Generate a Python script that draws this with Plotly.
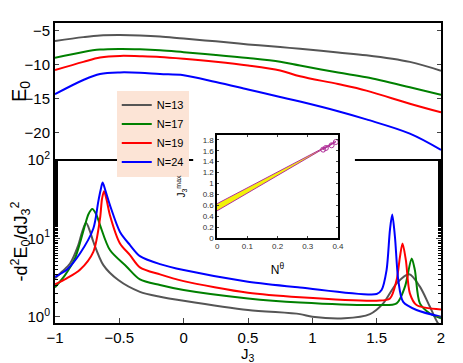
import plotly.graph_objects as go

# series names / colours
names = ["N=13", "N=17", "N=19", "N=24"]
colors = ["#555555", "#008000", "#ff0000", "#0000ff"]

# top panel: ground state energy E0 vs J3
j_top = [-1, -0.78, -0.65, -0.495, -0.34, -0.184, 0, 0.25, 0.5, 0.75, 0.904, 1.2, 1.42, 1.758, 2.0]
e0_13 = [-6.56, -5.98, -5.73, -5.68, -5.73, -5.88, -6.2, -6.6, -7.05, -7.45, -7.7, -8.25, -8.65, -9.63, -10.94]
e0_17 = [-9.04, -8.17, -7.82, -7.73, -7.78, -7.92, -8.2, -8.6, -9.05, -9.6, -10.16, -11.2, -11.9, -13.37, -14.49]
e0_19 = [-10.84, -9.63, -8.99, -8.75, -8.8, -8.9, -9.16, -9.6, -10.15, -10.9, -11.75, -12.9, -13.86, -15.8, -17.07]
e0_24 = [-14.39, -12.3, -11.42, -11.18, -11.23, -11.42, -11.6, -12.6, -13.7, -14.8, -15.47, -16.9, -18.1, -20.2, -22.6]

# bottom panel: -d2E0/dJ3^2 (log scale)
j_13 = [-1, -0.942, -0.883, -0.819, -0.79, -0.759, -0.73, -0.702, -0.624, -0.508, -0.34, -0.184, 0, 0.5, 0.904,
        1.0, 1.25, 1.448, 1.551, 1.655, 1.753, 1.836, 1.914, 1.978, 2.0]
d2_13 = [3.09, 3.8, 4.79, 8.22, 12.0, 15.8, 12.6, 9.06, 4.56, 2.94, 2.08, 1.80, 1.60, 1.22, 1.08,
         1.00, 0.955, 1.08, 1.48, 2.67, 3.48, 2.42, 1.34, 0.822, 0.794]
j_17 = [-1, -0.922, -0.845, -0.767, -0.74, -0.71, -0.68, -0.65, -0.573, -0.443, -0.34, -0.184, 0, 0.5, 0.904,
        1.5, 1.655, 1.72, 1.772, 1.797, 1.836, 1.914, 2.0]
d2_17 = [2.37, 3.40, 5.55, 14.8, 20.4, 23.7, 20.4, 14.8, 7.10, 4.35, 3.00, 2.54, 2.19, 1.71, 1.52,
         1.41, 1.48, 2.42, 5.56, 3.94, 1.48, 1.10, 0.955]
j_19 = [-1, -0.909, -0.806, -0.702, -0.65, -0.635, -0.619, -0.6, -0.573, -0.495, -0.417, -0.34, -0.184, 0, 0.5,
        0.904, 1.5, 1.603, 1.655, 1.681, 1.701, 1.727, 1.758, 1.81, 2.0]
d2_19 = [2.59, 3.09, 3.98, 6.75, 18.0, 31.6, 40.1, 31.6, 19.8, 8.63, 6.12, 4.27, 3.47, 2.85, 2.02,
         1.77, 1.60, 1.71, 2.94, 5.82, 8.63, 5.28, 1.99, 1.41, 1.24]
j_24 = [-1, -0.909, -0.806, -0.702, -0.664, -0.645, -0.63, -0.61, -0.573, -0.495, -0.417, -0.34, -0.184, 0, 0.5,
        0.904, 1.5, 1.538, 1.577, 1.603, 1.621, 1.642, 1.668, 1.706, 1.81, 2.0]
d2_24 = [3.24, 3.98, 6.43, 13.4, 29.3, 41.7, 51.8, 41.7, 26.6, 12.1, 8.22, 5.94, 4.70, 3.94, 2.80,
         2.37, 1.95, 2.19, 3.94, 12.8, 20.2, 10.5, 2.94, 1.55, 1.22, 1.00]

# inset: J3 max vs N^theta
band_x = [0, 0.393]
band_lo = [0.5, 1.77]
band_hi = [0.63, 1.77]
pts_x = [0.351, 0.360, 0.379, 0.393]
pts_y = [1.62, 1.65, 1.70, 1.76]

font = "Liberation Sans, Arial, sans-serif"
fig = go.Figure()

tops = [e0_13, e0_17, e0_19, e0_24]
for nm, c, e in zip(names, colors, tops):
    fig.add_trace(go.Scatter(x=j_top, y=e, mode="lines", name=nm, line=dict(color=c, width=2, shape="spline"),
                             xaxis="x", yaxis="y"))

lows = [(j_13, d2_13), (j_17, d2_17), (j_19, d2_19), (j_24, d2_24)]
for nm, c, (jj, dd) in zip(names, colors, lows):
    fig.add_trace(go.Scatter(x=jj, y=dd, mode="lines", name=nm, showlegend=False,
                             line=dict(color=c, width=2, shape="spline", smoothing=0.8),
                             xaxis="x2", yaxis="y2"))

# inset band + points
mag = "#b0309a"
fig.add_trace(go.Scatter(x=band_x, y=band_lo, mode="lines", line=dict(color=mag, width=1),
                         showlegend=False, xaxis="x3", yaxis="y3"))
fig.add_trace(go.Scatter(x=band_x, y=band_hi, mode="lines", line=dict(color=mag, width=1), fill="tonexty",
                         fillcolor="#f2f20a", showlegend=False, xaxis="x3", yaxis="y3"))
fig.add_trace(go.Scatter(x=pts_x, y=pts_y, mode="lines+markers", line=dict(color=mag, width=1),
                         marker=dict(symbol="circle-open", size=5, color=mag, line=dict(width=1)),
                         showlegend=False, xaxis="x3", yaxis="y3"))

ax = dict(showline=True, linecolor="black", linewidth=2, mirror="ticks", ticks="inside", automargin=False,
          showgrid=False, zeroline=False, tickfont=dict(size=15, color="black"))
inax = dict(showline=True, linecolor="black", linewidth=1.5, mirror="ticks", ticks="inside", ticklen=2,
            automargin=False, showgrid=False, zeroline=False, tickfont=dict(size=8, color="#333"))
split = 0.543

fig.update_layout(
    # page body adds an 8px margin, so the figure is drawn 8px smaller
    width=455, height=355,
    margin=dict(l=47, r=22, t=15, b=40),
    paper_bgcolor="white", plot_bgcolor="white",
    font=dict(family=font, color="black"),
    xaxis=dict(ax, domain=[0, 1], range=[-1, 2], showticklabels=False, anchor="y", side="top",
               mirror=False, ticks=""),
    yaxis=dict(ax, domain=[split, 1], range=[-24.1, -3.9], tickvals=[-5, -10, -15, -20], ticklen=4,
               anchor="x", title=dict(text="E<sub>0</sub>", font=dict(size=20))),
    xaxis2=dict(ax, domain=[0, 1], range=[-1, 2], tickvals=[-1, -0.5, 0, 0.5, 1, 1.5, 2], anchor="y2",
                ticklen=5, mirror=False),
    yaxis2=dict(ax, domain=[0, split], type="log", range=[-0.08, 2.0], anchor="x2",
                tickvals=[1, 10, 100], ticktext=["10<sup>0</sup>", "10<sup>1</sup>", "10<sup>2</sup>"],
                ticklen=5, minor=dict(ticks="inside", ticklen=3, tickcolor="black"),
                title=dict(text="-d<sup>2</sup>E<sub>0</sub>/dJ<sub>3</sub><sup>2</sup>", font=dict(size=18))),
    xaxis3=dict(inax, domain=[0.42, 0.733], range=[0, 0.4], anchor="y3", dtick=0.1,
                title=dict(text="N<sup>θ</sup>", font=dict(size=12))),
    yaxis3=dict(inax, domain=[0.283, 0.627], range=[0, 1.89], anchor="x3", dtick=0.2,
                title=dict(text="J<sub>3</sub><sup>max</sup>", font=dict(size=10))),
    legend=dict(x=0.16, y=0.775, xanchor="left", yanchor="top", bgcolor="#fce4d6",
                font=dict(size=11), itemwidth=30, tracegroupgap=0, traceorder="normal"),
    showlegend=True,
    annotations=[dict(text="J<sub>3</sub>", xref="paper", yref="paper", x=0.5, y=-0.066,
                      xanchor="center", yanchor="top", showarrow=False, font=dict(size=15))],
    shapes=[
        # divider between the two panels, below the inset
        dict(type="line", xref="paper", yref="paper", x0=0, x1=1, y0=split, y1=split,
             line=dict(color="black", width=2), layer="below"),
        # white gap around the inset
        dict(type="rect", xref="paper", yref="paper", x0=0.358, x1=0.777, y0=split - 0.02, y1=split + 0.02,
             fillcolor="white", line=dict(width=0), layer="below"),
    ],
)

fig.write_html("out.html")
